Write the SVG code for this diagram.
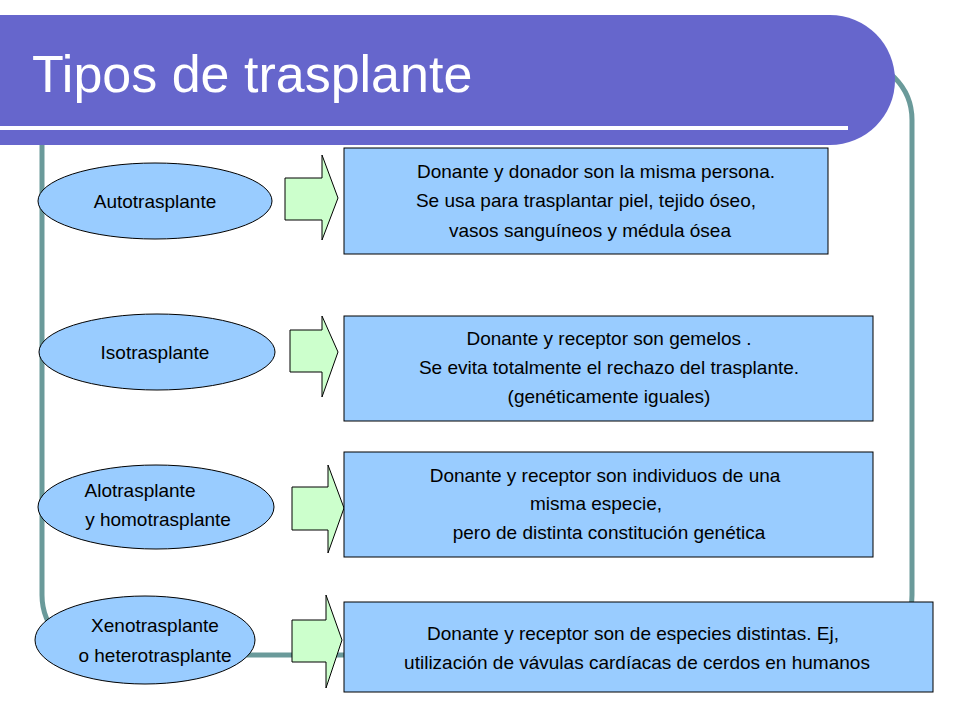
<svg xmlns="http://www.w3.org/2000/svg" width="960" height="720" viewBox="0 0 960 720">
<style>
.t{font-family:"Liberation Sans",Arial,sans-serif;font-size:19px;fill:#000;text-anchor:middle}
.e{fill:#99CCFF;stroke:#000;stroke-width:1}
.b{fill:#99CCFF;stroke:#000;stroke-width:1}
.a{fill:#CCFFCC;stroke:#000;stroke-width:1}
</style>
<rect width="960" height="720" fill="#fff"/>
<rect x="42" y="60" width="870" height="595" rx="60" fill="none" stroke="#6A9A9A" stroke-width="5"/>
<path d="M0 15 H830 A65 65 0 0 1 895 80 V80 A65 65 0 0 1 830 145 H0 Z" fill="#6666CC"/>
<rect x="0" y="126" width="848" height="4" fill="#fff"/>
<text x="32" y="92" style="font-family:'Liberation Sans',Arial,sans-serif;font-size:52px;fill:#fff">Tipos de trasplante</text>
<g id="connectors">
<path class="a" d="M285 178 H322 V155 L338 198 L322 240 V220 H285 Z"/>
<path class="a" d="M290 330 H322 V316 L338 352 L322 397 V372 H290 Z"/>
<path class="a" d="M292 487 H328 V465 L344 508 L328 553 V530 H292 Z"/>
<path class="a" d="M292 620 H326 V595 L342 640 L326 688 V662 H292 Z"/>
</g>
<g id="n1"><ellipse class="e" cx="155" cy="201" rx="117" ry="38"/><text class="t" x="155" y="208">Autotrasplante</text></g>
<g id="n2"><ellipse class="e" cx="157" cy="352" rx="118" ry="38"/><text class="t" x="155" y="359">Isotrasplante</text></g>
<g id="n3"><ellipse class="e" cx="156" cy="507" rx="118" ry="42"/><text class="t" x="140" y="497">Alotrasplante</text><text class="t" x="158" y="526">y homotrasplante</text></g>
<g id="n4"><ellipse class="e" cx="145" cy="640" rx="110" ry="44"/><text class="t" x="155" y="632">Xenotrasplante</text><text class="t" x="155" y="662">o heterotrasplante</text></g>
<g id="d1"><rect class="b" x="344" y="148" width="484" height="106"/><text class="t" x="596" y="178">Donante y donador son la misma persona.</text><text class="t" x="586" y="207">Se usa para trasplantar piel, tejido óseo,</text><text class="t" x="590" y="237">vasos sanguíneos y médula ósea</text></g>
<g id="d2"><rect class="b" x="344" y="316" width="529" height="105"/><text class="t" x="609" y="345">Donante y receptor son gemelos .</text><text class="t" x="609" y="374">Se evita totalmente el rechazo del trasplante.</text><text class="t" x="609" y="403">(genéticamente iguales)</text></g>
<g id="d3"><rect class="b" x="344" y="452" width="529" height="105"/><text class="t" x="605" y="482">Donante y receptor son individuos de una</text><text class="t" x="596" y="510">misma especie,</text><text class="t" x="609" y="539">pero de distinta constitución genética</text></g>
<g id="d4"><rect class="b" x="344" y="602" width="589" height="90"/><text class="t" x="633" y="640">Donante y receptor son de especies distintas. Ej,</text><text class="t" x="637" y="669">utilización de vávulas cardíacas de cerdos en humanos</text></g>
</svg>
